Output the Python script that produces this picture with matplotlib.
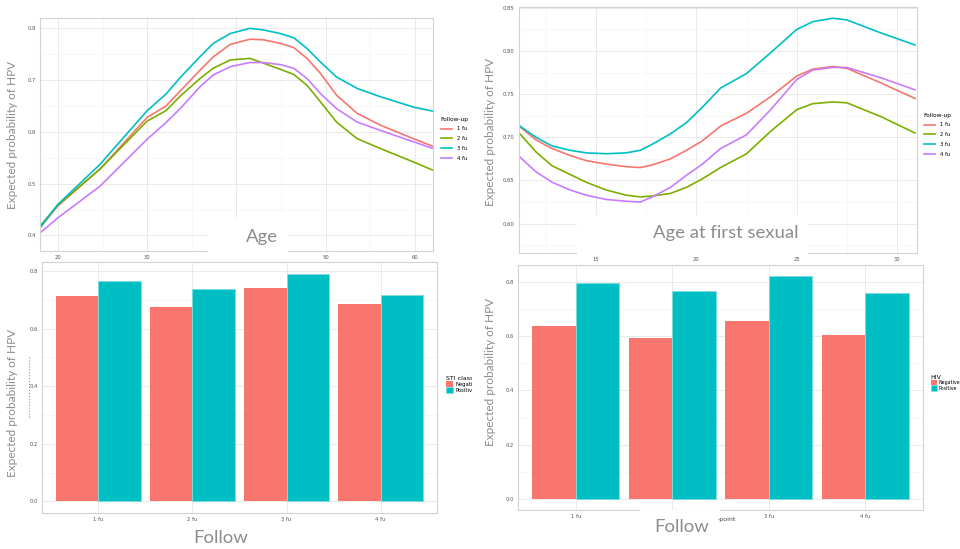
import numpy as np
import matplotlib.pyplot as plt
from matplotlib.patches import Rectangle
from matplotlib.lines import Line2D
from matplotlib.ticker import MultipleLocator, FormatStrFormatter

plt.rcParams['font.family'] = ['DejaVu Sans']

# --- data ---
follow = ["1 fu", "2 fu", "3 fu", "4 fu"]
line_colors = ["#F8766D", "#7CAE00", "#00BFC4", "#C77CFF"]

age = [18, 20, 24.7, 30, 32.1, 33.7, 35.9, 37.4, 39.3, 41.5, 43.0, 44.9, 46.4, 47.9,
       49.4, 51.2, 53.5, 56.1, 59.8, 62.0]
age_fu1 = [0.415, 0.457, 0.528, 0.628, 0.650, 0.679, 0.719, 0.745, 0.769, 0.779, 0.778, 0.771,
           0.763, 0.742, 0.713, 0.671, 0.636, 0.613, 0.587, 0.572]
age_fu2 = [0.418, 0.459, 0.528, 0.621, 0.641, 0.669, 0.703, 0.723, 0.739, 0.742, 0.733, 0.721,
           0.711, 0.690, 0.658, 0.619, 0.587, 0.568, 0.542, 0.526]
age_fu3 = [0.415, 0.460, 0.537, 0.641, 0.673, 0.705, 0.745, 0.771, 0.790, 0.800, 0.797, 0.790,
           0.782, 0.761, 0.735, 0.706, 0.684, 0.668, 0.648, 0.640]
age_fu4 = [0.405, 0.434, 0.495, 0.586, 0.618, 0.645, 0.687, 0.710, 0.726, 0.734, 0.734, 0.730,
           0.723, 0.703, 0.674, 0.645, 0.619, 0.603, 0.581, 0.568]

sex_age = [11.2, 12.0, 12.8, 13.7, 14.5, 15.5, 16.5, 17.2, 17.8, 18.7, 19.5, 20.3, 21.2,
           22.5, 23.7, 25, 25.8, 26.8, 27.5, 29.2, 30.9]
sex_fu1 = [0.712, 0.697, 0.687, 0.679, 0.673, 0.669, 0.666, 0.665, 0.668, 0.675, 0.685, 0.696,
           0.713, 0.728, 0.747, 0.771, 0.779, 0.782, 0.780, 0.763, 0.745]
sex_fu2 = [0.704, 0.683, 0.667, 0.657, 0.648, 0.639, 0.633, 0.631, 0.632, 0.635, 0.642, 0.652,
           0.665, 0.681, 0.707, 0.732, 0.739, 0.741, 0.740, 0.724, 0.705]
sex_fu3 = [0.713, 0.700, 0.690, 0.685, 0.682, 0.681, 0.682, 0.685, 0.692, 0.704, 0.717, 0.735,
           0.757, 0.774, 0.798, 0.825, 0.834, 0.838, 0.836, 0.821, 0.807]
sex_fu4 = [0.677, 0.660, 0.648, 0.639, 0.633, 0.628, 0.626, 0.625, 0.631, 0.642, 0.656, 0.669,
           0.687, 0.703, 0.732, 0.767, 0.778, 0.781, 0.781, 0.769, 0.755]

sti_neg = [0.713, 0.676, 0.740, 0.686]
sti_pos = [0.765, 0.736, 0.790, 0.718]
hiv_neg = [0.636, 0.593, 0.657, 0.604]
hiv_pos = [0.795, 0.766, 0.822, 0.759]
bar_colors = ["#F8766D", "#00BFC4"]

W, H = 960, 549
fig = plt.figure(figsize=(9.6, 5.49), dpi=100)
fig.patch.set_facecolor("white")


def px_box(x0, y0, x1, y1):
    return [x0 / W, 1 - y1 / H, (x1 - x0) / W, (y1 - y0) / H]


def fx(x):
    return x / W


def fy(y):
    return 1 - y / H


def gg_style(ax):
    ax.set_facecolor("white")
    for s in ax.spines.values():
        s.set_color("#d3d3d3")
        s.set_linewidth(0.8)
    ax.grid(True, which="major", color="#e6e6e6", lw=0.6)
    ax.grid(True, which="minor", color="#f2f2f2", lw=0.4)
    ax.set_axisbelow(True)
    ax.tick_params(which="both", length=0, labelsize=3.8, colors="#555555", pad=3)
    ax.tick_params(which="minor", labelsize=0)


# --- top left: age ---
ax1 = fig.add_axes(px_box(40, 18, 433, 251))
gg_style(ax1)
for vals, c, lab in zip([age_fu1, age_fu2, age_fu3, age_fu4], line_colors, follow):
    ax1.plot(age, vals, color=c, lw=1.2, label=lab, solid_joinstyle="round")
ax1.set_xlim(18, 62)
ax1.set_ylim(0.37, 0.82)
ax1.xaxis.set_major_locator(MultipleLocator(10))
ax1.xaxis.set_minor_locator(MultipleLocator(5))
ax1.yaxis.set_major_locator(MultipleLocator(0.1))
ax1.yaxis.set_minor_locator(MultipleLocator(0.05))
ax1.yaxis.set_major_formatter(FormatStrFormatter("%.1f"))
leg = ax1.legend(title="Follow-up", loc="upper left", bbox_to_anchor=(fx(436), fy(112)),
                 bbox_transform=fig.transFigure, frameon=False, fontsize=3.8,
                 title_fontsize=4.2, handlelength=2.2, labelspacing=0.9)
leg._legend_box.align = "left"

# --- top right: age at first sexual ---
ax2 = fig.add_axes(px_box(519, 7, 917, 253))
gg_style(ax2)
for vals, c, lab in zip([sex_fu1, sex_fu2, sex_fu3, sex_fu4], line_colors, follow):
    ax2.plot(sex_age, vals, color=c, lw=1.2, label=lab, solid_joinstyle="round")
ax2.set_xlim(11.15, 31)
ax2.set_ylim(0.566, 0.851)
ax2.xaxis.set_major_locator(MultipleLocator(5))
ax2.xaxis.set_minor_locator(MultipleLocator(2.5))
ax2.yaxis.set_major_locator(MultipleLocator(0.05))
ax2.yaxis.set_minor_locator(MultipleLocator(0.025))
ax2.yaxis.set_major_formatter(FormatStrFormatter("%.2f"))
leg = ax2.legend(title="Follow-up", loc="upper left", bbox_to_anchor=(fx(919), fy(108)),
                 bbox_transform=fig.transFigure, frameon=False, fontsize=3.8,
                 title_fontsize=4.2, handlelength=2.2, labelspacing=0.9)
leg._legend_box.align = "left"


def bar_panel(ax, neg, pos, title, top, legx, legy, fs=3.8):
    gg_style(ax)
    x = np.arange(1, len(follow) + 1)
    ax.bar(x - 0.225, neg, width=0.45, color=bar_colors[0], label="Negative")
    ax.bar(x + 0.225, pos, width=0.45, color=bar_colors[1], label="Positive",
           edgecolor="#7fdde0", lw=0.5)
    ax.set_xticks(x)
    ax.set_xticklabels(follow)
    ax.set_xlim(0.4, 4.6)
    ax.set_ylim(-0.04, top)
    ax.yaxis.set_major_locator(MultipleLocator(0.2))
    ax.yaxis.set_minor_locator(MultipleLocator(0.1))
    ax.yaxis.set_major_formatter(FormatStrFormatter("%.1f"))
    leg = ax.legend(title=title, loc="upper left", bbox_to_anchor=(fx(legx), fy(legy)),
                    bbox_transform=fig.transFigure, frameon=False, fontsize=fs,
                    title_fontsize=4.5, handlelength=1.3, handleheight=1.4,
                    labelspacing=0.0, handletextpad=0.4, borderaxespad=0.2)
    leg._legend_box.align = "left"


# --- bottom left: STI class ---
ax3 = fig.add_axes(px_box(42, 262, 437, 513))
bar_panel(ax3, sti_neg, sti_pos, "STI class", 0.831, 443, 373)

# --- bottom right: HIV ---
ax4 = fig.add_axes(px_box(518, 265, 923, 510))
bar_panel(ax4, hiv_neg, hiv_pos, "HIV", 0.862, 928, 372, fs=3.4)

# white patches where the pasted pictures overlap
fig.patches.append(Rectangle((fx(472), fy(549)), 12 / W, 290 / H, transform=fig.transFigure,
                             facecolor="white", edgecolor="none", zorder=4))
fig.patches.append(Rectangle((fx(208), fy(259)), 80 / W, 41 / H, transform=fig.transFigure,
                             facecolor="white", edgecolor="none", zorder=4))
fig.patches.append(Rectangle((fx(577), fy(255)), 231 / W, 40 / H, transform=fig.transFigure,
                             facecolor="white", edgecolor="none", zorder=4))
fig.patches.append(Rectangle((fx(640), fy(546)), 80 / W, 36 / H, transform=fig.transFigure,
                             facecolor="white", edgecolor="none", zorder=4))

# stray dotted mark on the lower left panel
fig.lines.append(Line2D([fx(29), fx(29)], [fy(357), fy(418)], transform=fig.transFigure,
                        color="#6a9fd8", lw=0.8, ls=":", zorder=5))

# big grey labels
lab_kw = dict(color="#8c8c8c", family=["Lato", "DejaVu Sans"], zorder=6)
for xc, yc in [(13, 135), (491, 132), (13, 403), (491, 372)]:
    fig.text(fx(xc), fy(yc), "Expected probability of HPV", rotation=90,
             ha="center", va="center", fontsize=8.5, **lab_kw)
fig.text(fx(262), fy(237), "Age", ha="center", va="center", fontsize=13.3, **lab_kw)
fig.text(fx(726), fy(233), "Age at first sexual", ha="center", va="center", fontsize=13.3, **lab_kw)
fig.text(fx(221), fy(538), "Follow", ha="center", va="center", fontsize=13.3, **lab_kw)
fig.text(fx(682), fy(527), "Follow", ha="center", va="center", fontsize=13.3, **lab_kw)
fig.text(fx(727), fy(520), "-point", ha="center", va="center", fontsize=4.5,
         color="#444444", zorder=6)

fig.savefig("out.png", dpi=100, facecolor="white")
